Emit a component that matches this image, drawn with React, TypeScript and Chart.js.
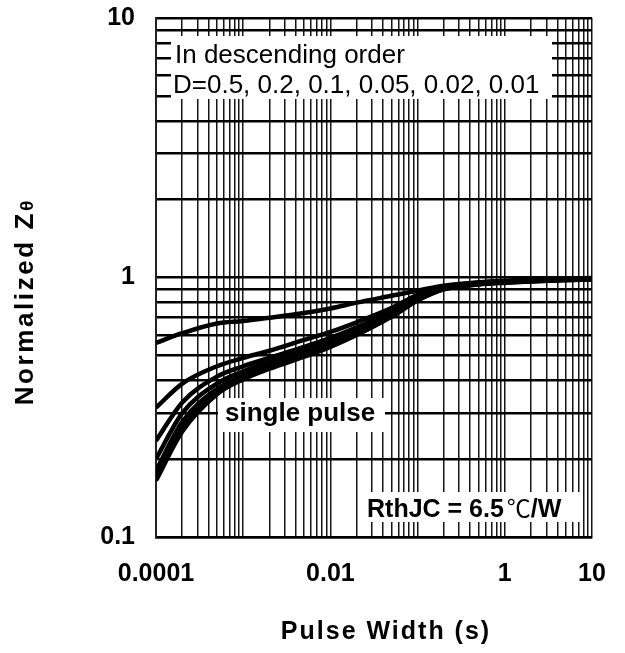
import React, { useEffect, useRef } from "react";
import { Chart, registerables } from "chart.js";
Chart.register(...registerables);

// Pulse width (s) sample points shared by all curves
const pulseWidth = [1e-4, 2e-4, 5e-4, 1e-3, 2e-3, 5e-3, 1e-2, 2e-2, 5e-2, 0.1, 0.2, 0.5, 1, 2, 5, 10];

// Normalized Zθ per duty cycle
const zD050 = [0.56, 0.61, 0.665, 0.68, 0.7, 0.73, 0.76, 0.8, 0.85, 0.89, 0.93, 0.958, 0.972, 0.982, 0.99, 0.996];
const zD020 = [0.315, 0.39, 0.455, 0.49, 0.522, 0.575, 0.617, 0.672, 0.762, 0.858, 0.922, 0.954, 0.968, 0.978, 0.988, 0.993];
const zD010 = [0.235, 0.33, 0.415, 0.455, 0.49, 0.54, 0.585, 0.643, 0.743, 0.845, 0.915, 0.95, 0.965, 0.975, 0.985, 0.99];
const zD005 = [0.2, 0.3, 0.39, 0.435, 0.473, 0.522, 0.568, 0.628, 0.73, 0.835, 0.91, 0.947, 0.962, 0.972, 0.982, 0.988];
const zD002 = [0.18, 0.278, 0.372, 0.42, 0.46, 0.51, 0.558, 0.618, 0.72, 0.827, 0.906, 0.944, 0.959, 0.97, 0.98, 0.986];
const zD001 = [0.172, 0.265, 0.362, 0.412, 0.452, 0.502, 0.55, 0.61, 0.712, 0.82, 0.903, 0.942, 0.957, 0.968, 0.978, 0.984];
const zSingle = [0.165, 0.255, 0.355, 0.405, 0.445, 0.495, 0.54, 0.6, 0.705, 0.815, 0.9, 0.94, 0.955, 0.966, 0.976, 0.982];

const seriesNames = ["D=0.5", "D=0.2", "D=0.1", "D=0.05", "D=0.02", "D=0.01", "single pulse"];
const seriesValues = [zD050, zD020, zD010, zD005, zD002, zD001, zSingle];

// Tick labels
const xTickValues = [1e-4, 1e-2, 1, 10];
const xTickLabels = ["0.0001", "0.01", "1", "10"];
const yTickValues = [0.1, 1, 10];
const yTickLabels = ["0.1", "1", "10"];

// Grid decades
const xDecades = [-4, -3, -2, -1, 0];
const yDecades = [-1, 0];
const gridMultipliers = [1, 2, 3, 4, 5, 6, 7, 8, 9];

const legendLine1 = "In descending order";
const legendLine2 = "D=0.5, 0.2, 0.1, 0.05, 0.02, 0.01";
const singleLabel = "single pulse";
const rthLabelA = "RthJC = 6.5";
const rthLabelB = "℃";
const rthLabelC = "/W";
const xTitle = "Pulse Width (s)";
const yTitle = "Normalized Z";
const yTitleSub = "θ";

const FONT = "'Liberation Sans', Arial, Helvetica, sans-serif";
const CJK = "'Noto Sans CJK SC', 'Noto Sans CJK JP', sans-serif";

function gridValues(decades: number[], top: number) {
  const out: number[] = [];
  for (const d of decades) for (const m of gridMultipliers) out.push(m * Math.pow(10, d));
  out.push(top);
  return out;
}

function labelFor(v: number, vals: number[], labels: string[]) {
  for (let i = 0; i < vals.length; i++) {
    if (Math.abs(Math.log10(v) - Math.log10(vals[i])) < 1e-6) return labels[i];
  }
  return "";
}

const annotationPlugin = {
  id: "annotations",
  beforeDatasetsDraw(chart: any) {
    const ctx = chart.ctx as CanvasRenderingContext2D;
    ctx.save();
    ctx.fillStyle = "#ffffff";
    ctx.fillRect(171, 36, 381, 63);
    ctx.fillRect(218, 398, 167, 34);
    ctx.fillRect(363, 492, 219, 30);
    ctx.fillStyle = "#000";
    ctx.textBaseline = "alphabetic";
    ctx.textAlign = "left";
    ctx.font = `26px ${FONT}`;
    ctx.fillText(legendLine1, 175, 63);
    ctx.fillText(legendLine2, 173, 93);
    ctx.font = `bold 26px ${FONT}`;
    ctx.fillText(singleLabel, 225, 421);
    ctx.font = `bold 25px ${FONT}`;
    let x = 367;
    ctx.fillText(rthLabelA, x, 517);
    x += ctx.measureText(rthLabelA).width + 3;
    ctx.font = `24px ${CJK}`;
    ctx.fillText(rthLabelB, x, 517);
    x += ctx.measureText(rthLabelB).width;
    ctx.font = `bold 25px ${FONT}`;
    ctx.fillText(rthLabelC, x, 517);
    ctx.restore();
  },
  afterDraw(chart: any) {
    const ctx = chart.ctx as CanvasRenderingContext2D;
    ctx.save();
    ctx.fillStyle = "#000";
    (ctx as any).letterSpacing = "2px";
    ctx.font = `bold 25px ${FONT}`;
    ctx.textAlign = "center";
    ctx.textBaseline = "alphabetic";
    ctx.fillText(xTitle, 386, 639);
    // y title, rotated
    ctx.translate(33, 303);
    ctx.rotate(-Math.PI / 2);
    ctx.textAlign = "left";
    ctx.font = `bold 26px ${FONT}`;
    (ctx as any).letterSpacing = "2.6px";
    const w1 = ctx.measureText(yTitle).width;
    ctx.font = `bold 19px ${FONT}`;
    (ctx as any).letterSpacing = "0px";
    const w2 = ctx.measureText(yTitleSub).width;
    const start = -(w1 + w2) / 2;
    ctx.font = `bold 26px ${FONT}`;
    (ctx as any).letterSpacing = "2.6px";
    ctx.fillText(yTitle, start, 0);
    ctx.font = `bold 19px ${FONT}`;
    (ctx as any).letterSpacing = "0px";
    ctx.fillText(yTitleSub, start + w1, 0);
    ctx.restore();
  },
};

export default function App() {
  const ref = useRef<HTMLCanvasElement | null>(null);
  useEffect(() => {
    document.body.style.margin = "0";
    const canvas = ref.current;
    if (!canvas) return;
    const xGrid = gridValues(xDecades, 10);
    const yGrid = gridValues(yDecades, 10);
    const chart = new Chart(canvas, {
      type: "line",
      data: {
        datasets: seriesValues.map((vals, i) => ({
          label: seriesNames[i],
          data: pulseWidth.map((x, j) => ({ x, y: vals[j] })),
          borderColor: "#000",
          borderWidth: 4.5,
          pointRadius: 0,
          fill: false,
          cubicInterpolationMode: "monotone" as const,
        })),
      },
      options: {
        animation: false,
        responsive: false,
        devicePixelRatio: 1,
        layout: { padding: { top: 18, right: 33, left: 0, bottom: 0 } },
        plugins: { legend: { display: false }, tooltip: { enabled: false } },
        scales: {
          x: {
            type: "logarithmic",
            min: 1e-4,
            max: 10,
            afterBuildTicks: (s: any) => {
              s.ticks = xGrid.map((v) => ({ value: v }));
            },
            afterFit: (s: any) => {
              s.height = 116;
            },
            ticks: {
              autoSkip: false,
              maxRotation: 0,
              minRotation: 0,
              padding: 0,
              color: "#000",
              font: { family: FONT, size: 25, weight: "bold" },
              callback: (v: any) => labelFor(Number(v), xTickValues, xTickLabels),
            },
            grid: { color: "#151515", lineWidth: 1.5, drawTicks: true, tickLength: 22, tickColor: "rgba(0,0,0,0)" },
            border: { color: "#000", width: 2.5 },
          },
          y: {
            type: "logarithmic",
            min: 0.1,
            max: 10,
            afterBuildTicks: (s: any) => {
              s.ticks = yGrid.map((v) => ({ value: v }));
            },
            afterFit: (s: any) => {
              s.width = 156;
            },
            ticks: {
              autoSkip: false,
              padding: 0,
              color: "#000",
              font: { family: FONT, size: 25, weight: "bold" },
              callback: (v: any) => labelFor(Number(v), yTickValues, yTickLabels),
            },
            grid: { color: "#000", lineWidth: 2.6, drawTicks: true, tickLength: 21, tickColor: "rgba(0,0,0,0)" },
            border: { color: "#222", width: 2 },
          },
        },
      },
      plugins: [annotationPlugin],
    } as any);
    return () => chart.destroy();
  }, []);
  return (
    <div style={{ position: "absolute", left: 0, top: 0, width: 625, height: 653, background: "#fff" }}>
      <canvas ref={ref} width={625} height={653} style={{ width: 625, height: 653, display: "block" }} />
    </div>
  );
}
